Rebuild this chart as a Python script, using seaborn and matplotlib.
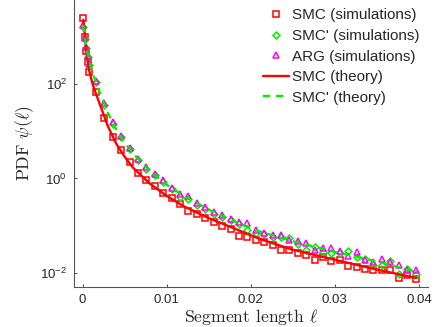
import matplotlib
matplotlib.use("Agg")
import matplotlib.pyplot as plt
import seaborn as sns
import numpy as np
import pandas as pd
from matplotlib.ticker import NullLocator

# --- DATA ---
seg_sim = [0.0001, 0.0003, 0.0004, 0.0006, 0.0008,
           0.0016, 0.0026, 0.0036, 0.0046, 0.0056, 0.0066, 0.0076, 0.0086, 0.0096, 0.0106,
           0.0116, 0.0126, 0.0136, 0.0146, 0.0156, 0.0166, 0.0176, 0.0186, 0.0196, 0.0206,
           0.0216, 0.0226, 0.0236, 0.0246, 0.0256, 0.0266, 0.0276, 0.0286, 0.0296, 0.0306,
           0.0316, 0.0326, 0.0336, 0.0346, 0.0356, 0.0366, 0.0376, 0.0386, 0.0396]

smc_sim = [2450, 1000, 495, 290, 184,
           67, 19.3, 7.7, 4.05, 2.2, 1.32, 0.91, 0.68, 0.50, 0.38,
           0.29, 0.21, 0.18, 0.148, 0.12, 0.101, 0.086, 0.062, 0.057, 0.049,
           0.046, 0.0395, 0.031, 0.031, 0.026, 0.024, 0.0184, 0.0216, 0.0178, 0.019,
           0.0137, 0.0133, 0.0123, 0.0113, 0.0117, 0.0117, 0.0079, 0.0089, 0.0076]

smcp_sim = [1650, 900, 570, 380, 255,
            110, 36, 14.5, 7.4, 4.2, 2.45, 1.62, 1.18, 0.85, 0.60,
            0.40, 0.37, 0.28, 0.23, 0.18, 0.15, 0.13, 0.11, 0.082, 0.069,
            0.067, 0.057, 0.057, 0.055, 0.041, 0.031, 0.036, 0.028, 0.027, 0.027,
            0.029, 0.0215, 0.020, 0.015, 0.015, 0.0175, 0.0095, 0.0123, 0.0096]

arg_sim = [1740, 950, 600, 400, 270,
           118, 39, 15.5, 7.9, 4.5, 2.6, 1.73, 1.26, 0.91, 0.64,
           0.47, 0.416, 0.31, 0.255, 0.194, 0.165, 0.14, 0.12, 0.115, 0.08,
           0.069, 0.063, 0.065, 0.050, 0.047, 0.043, 0.031, 0.034, 0.034, 0.029,
           0.023, 0.0276, 0.019, 0.0169, 0.020, 0.0169, 0.0144, 0.0116, 0.0113]

seg_theory = [0.0001, 0.0003, 0.0005, 0.0008, 0.0012, 0.0016, 0.002, 0.003, 0.004, 0.005,
              0.006, 0.008, 0.010, 0.012, 0.015, 0.018, 0.021, 0.025, 0.030, 0.035, 0.0397]
smc_theory = [2300, 1000, 420, 190, 100, 62, 40, 13, 5.5, 2.9,
              1.7, 0.78, 0.43, 0.26, 0.145, 0.088, 0.053, 0.031, 0.019, 0.0118, 0.0078]
smcp_theory = [1800, 950, 550, 300, 170, 110, 70, 25, 11, 5.8,
               3.4, 1.45, 0.74, 0.43, 0.22, 0.125, 0.076, 0.047, 0.028, 0.0175, 0.0105]

xticks = [0, 0.01, 0.02, 0.03, 0.04]
xtick_labels = ["0", "0.01", "0.02", "0.03", "0.04"]
yticks = [1e-2, 1e0, 1e2]

# --- STYLE ---
sns.set_style("ticks")
plt.rcParams.update({
    "font.family": ["Liberation Sans", "DejaVu Sans"],
    "mathtext.fontset": "custom",
    "mathtext.rm": "Liberation Sans",
    "mathtext.it": "Liberation Sans:italic",
    "xtick.labelsize": 9.5,
    "ytick.labelsize": 9.5,
})

fig = plt.figure(figsize=(4.36, 3.27), dpi=100)
ax = fig.add_axes([0.170, 0.122, 0.812, 0.878])

df_sim = pd.DataFrame({"x": seg_sim, "smc": smc_sim, "smcp": smcp_sim, "arg": arg_sim})
df_th = pd.DataFrame({"x": seg_theory, "smc": smc_theory, "smcp": smcp_theory})

marker_kw = dict(linestyle="none", markerfacecolor="none", markeredgewidth=1.1)
sns.lineplot(data=df_sim, x="x", y="smc", ax=ax, marker="s", markersize=4,
             color="#ff0000", markeredgecolor="#ff0000", label="SMC (simulations)", **marker_kw)
sns.lineplot(data=df_sim, x="x", y="smcp", ax=ax, marker="D", markersize=3.5,
             color="#00ee00", markeredgecolor="#00ee00", label="SMC' (simulations)", **marker_kw)
sns.lineplot(data=df_sim, x="x", y="arg", ax=ax, marker="^", markersize=4.5,
             color="#ff00ff", markeredgecolor="#ff00ff", label="ARG (simulations)", **marker_kw)
sns.lineplot(data=df_th, x="x", y="smc", ax=ax, color="#ff0000", linewidth=1.7,
             label="SMC (theory)")
sns.lineplot(data=df_th, x="x", y="smcp", ax=ax, color="#00ee00", linewidth=1.7,
             linestyle=(0, (3, 2.5)), label="SMC' (theory)")

ax.set_yscale("log")
ax.set_xlim(-0.001, 0.0411)
ax.set_ylim(10 ** -2.3, 10 ** 3.78)
ax.set_xticks(xticks)
ax.set_xticklabels(xtick_labels)
ax.set_yticks(yticks)
ax.yaxis.set_minor_locator(NullLocator())
ax.tick_params(direction="in", length=2.5, width=0.6, color="#333333", pad=5)

for side in ["top", "right"]:
    ax.spines[side].set_visible(False)
for side in ["left", "bottom"]:
    ax.spines[side].set_color("#555555")
    ax.spines[side].set_linewidth(0.8)

ax.set_xlabel(r"Segment length $\ell$", fontsize=12.7, family="cmr10",
              math_fontfamily="cm", labelpad=1)
ax.set_ylabel(r"PDF $\psi(\ell)$", fontsize=12.7, family="cmr10",
              math_fontfamily="cm", labelpad=3)

ax.legend(loc="upper right", frameon=False, fontsize=11, handlelength=1.7,
          handletextpad=0.2, labelspacing=0.43, borderaxespad=0.15)

fig.savefig("out.png", dpi=100)
